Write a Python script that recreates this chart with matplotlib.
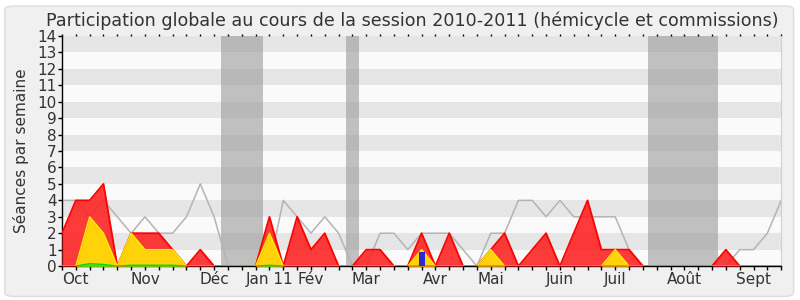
import numpy as np
import matplotlib
matplotlib.use("Agg")
import matplotlib.pyplot as plt
from matplotlib.patches import FancyBboxPatch

# weekly values, week 0 = first week of the session
red = [2, 4, 4, 5, 0, 2, 2, 2, 1, 0, 1, 0, 0, 0, 0, 3, 0, 3, 1, 2, 0, 0, 1, 1, 0, 0,
       2, 0, 2, 0, 0, 1, 2, 0, 1, 2, 0, 2, 4, 1, 1, 1, 0, 0, 0, 0, 0, 0, 1, 0, 0, 0, 0]
yellow = [0, 0, 3, 2, 0, 2, 1, 1, 1, 0, 0, 0, 0, 0, 0, 2, 0, 0, 0, 0, 0, 0, 0, 0, 0, 0,
          1, 0, 0, 0, 0, 1, 0, 0, 0, 0, 0, 0, 0, 0, 1, 0, 0, 0, 0, 0, 0, 0, 0, 0, 0, 0, 0]
green = [0, 0, 0.15, 0.1, 0, 0.05, 0.05, 0.05, 0.05, 0, 0, 0, 0, 0, 0, 0.05, 0, 0, 0, 0, 0, 0, 0, 0, 0, 0,
         0, 0, 0, 0, 0, 0, 0, 0, 0, 0, 0, 0, 0, 0, 0, 0, 0, 0, 0, 0, 0, 0, 0, 0, 0, 0, 0]
grey = [4, 4, 3, 4, 3, 2, 3, 2, 2, 3, 5, 3, 0, 0, 0, 0, 4, 3, 2, 3, 2, 0, 0, 2, 2, 1,
        2, 2, 2, 1, 0, 2, 2, 4, 4, 3, 4, 3, 3, 3, 3, 1, 0, 0, 0, 0, 0, 0, 0, 1, 1, 2, 4]
blue_week = [26]
blue_val = [0.87]

holidays = [(11.5, 14.5), (20.5, 21.5), (42.4, 47.4)]
month_weeks = [1, 6, 11, 15, 18, 22, 27, 31, 36, 40, 45, 50]
month_labels = ["Oct", "Nov", "Déc", "Jan 11", "Fév", "Mar", "Avr", "Mai", "Juin", "Juil", "Août", "Sept"]

weeks = np.arange(len(red))

fig = plt.figure(figsize=(8, 3), dpi=100, facecolor="white")
bg = FancyBboxPatch((0.006, 0.012), 0.986, 0.968, transform=fig.transFigure,
                    boxstyle="round,pad=0,rounding_size=0.012",
                    facecolor="#f0f0f0", edgecolor="#dddddd", lw=1, zorder=-10)
fig.patches.append(bg)
ax = fig.add_axes([0.0775, 0.113, 0.899, 0.767])
ax.set_facecolor("#fafafa")

# striped background
for k in range(14):
    if k % 2 == 1:
        ax.axhspan(k, k + 1, color="#e6e6e6", lw=0, zorder=0)

for a, b in holidays:
    ax.axvspan(a, b, color="#9a9a9a", alpha=0.6, lw=0, zorder=1)

ax.plot(weeks, grey, color="#b4b4b4", lw=1.1, zorder=2)
ax.fill_between(weeks, red, color="#ff2020", alpha=0.88, lw=0, zorder=3)
ax.plot(weeks, red, color="#ff0000", lw=1.3, zorder=3)
ax.fill_between(weeks, yellow, color="#ffd20a", lw=0, zorder=4)
ax.plot(weeks, yellow, color="#ffee00", lw=1, zorder=4)
ax.fill_between(weeks, green, color="#22ee22", lw=0, zorder=5)
ax.plot(weeks, green, color="#00dd00", lw=1, zorder=5)
ax.bar(blue_week, blue_val, width=0.42, color="#2a2ad6", zorder=6)

ax.set_xlim(0, 52)
ax.set_ylim(0, 14)
ax.set_yticks(range(15))
ax.set_xticks(weeks)
ax.set_xticklabels([month_labels[month_weeks.index(w)] if w in month_weeks else "" for w in weeks])
ax.tick_params(axis="x", length=3, width=1, color="black", labelsize=11, labelcolor="#333333", pad=1)
ax.tick_params(axis="x", which="major", top=True, labeltop=False)
for t in ax.xaxis.get_major_ticks():
    t.tick2line.set_markersize(1.1)
    t.tick2line.set_markeredgewidth(1)
    t.tick2line.set_color("#777777")
ax.tick_params(axis="y", length=3, width=1, color="black", labelsize=11, labelcolor="#333333", pad=1)

ax.spines["top"].set_visible(False)
ax.spines["right"].set_color("#d0d0d0")
for s in ["left", "bottom"]:
    ax.spines[s].set_color("black")
    ax.spines[s].set_linewidth(1)

ax.set_ylabel("Séances par semaine", fontsize=11, color="#333333", labelpad=6)
fig.text(412.5 / 800, 1 - 26.5 / 300, "Participation globale au cours de la session 2010-2011 (hémicycle et commissions)",
         fontsize=12.6, color="#333333", ha="center", va="baseline")

fig.savefig("out.png", dpi=100, facecolor=fig.get_facecolor())
